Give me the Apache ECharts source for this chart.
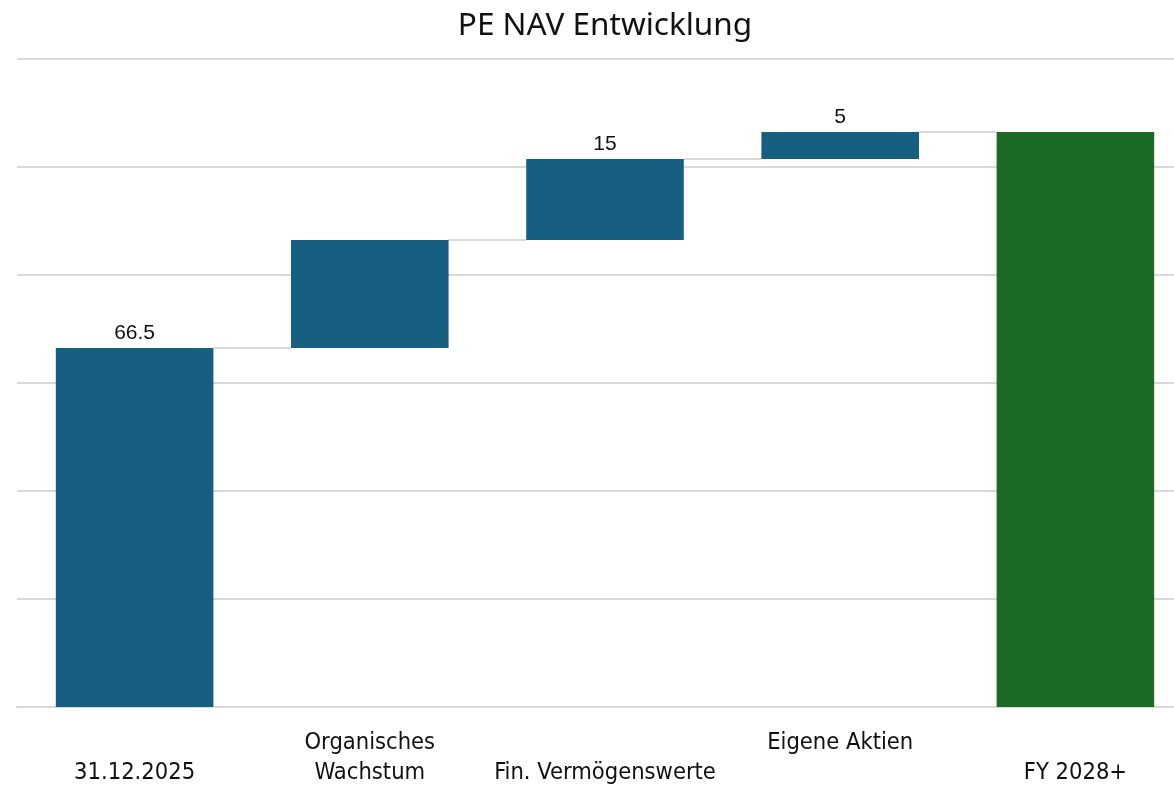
<!DOCTYPE html>
<html>
<head>
<meta charset="utf-8">
<script src="https://cdn.jsdelivr.net/npm/echarts@6/dist/echarts.min.js"></script>
<style>
  html, body { margin: 0; padding: 0; background: #fff; overflow: hidden; }
  #chart { width: 1210px; height: 789px; }
</style>
</head>
<body>
<div id="chart"></div>
<script>
// Kategorien (Excel-Umbruch nachgebildet)
var categories = ['\n31.12.2025', 'Organisches\nWachstum', '\nFin. Vermögenswerte', 'Eigene Aktien\n ', '\nFY 2028+'];
// Wasserfall-Werte; letzter Balken = Summe
var values = [66.5, 20, 15, 5, 106.5];
var isTotal = [true, false, false, false, true];
var labelShown = [true, false, true, true, false];
var barColors = ['#175F80', '#175F80', '#175F80', '#175F80', '#1C6B24'];

// Basis (unsichtbar) aus kumulierten Werten
var baseData = [];
var levels = [];
var running = 0;
for (var i = 0; i < values.length; i++) {
  if (isTotal[i]) {
    baseData.push(0);
    running = values[i];
  } else {
    baseData.push(running);
    running = running + values[i];
  }
  levels.push(running);
}

var barRatio = 0.67;

var myChart = echarts.init(document.getElementById('chart'));
var option = {
  animation: false,
  title: {
    text: 'PE NAV Entwicklung',
    left: 'center',
    top: 5,
    textStyle: {
      fontFamily: 'Noto Sans',
      fontWeight: 'normal',
      fontSize: 31.5,
      color: '#111'
    }
  },
  grid: {
    left: 17,
    right: 17,
    top: 59,
    bottom: 82
  },
  xAxis: {
    type: 'category',
    data: categories,
    axisLine: { lineStyle: { color: '#d9d9d9', width: 2 } },
    axisTick: { show: false },
    axisLabel: {
      interval: 0,
      margin: 21,
      fontFamily: 'Liberation Sans Narrow, DejaVu Sans Condensed, sans-serif',
      fontSize: 23.5,
      lineHeight: 30,
      color: '#111'
    }
  },
  yAxis: {
    type: 'value',
    min: 0,
    max: 120,
    interval: 20,
    axisLabel: { show: false },
    axisLine: { show: false },
    axisTick: { show: false },
    splitLine: { lineStyle: { color: '#d9d9d9', width: 2 } }
  },
  series: [
    {
      name: 'base',
      type: 'bar',
      stack: 'wf',
      barWidth: (barRatio * 100) + '%',
      itemStyle: { color: 'transparent' },
      data: baseData,
      silent: true
    },
    {
      name: 'value',
      type: 'bar',
      stack: 'wf',
      barWidth: (barRatio * 100) + '%',
      data: values.map(function (v, i) {
        return {
          value: v,
          itemStyle: { color: barColors[i] },
          label: { show: labelShown[i] }
        };
      }),
      label: {
        position: 'top',
        distance: 4,
        fontFamily: 'Liberation Sans, Arial, sans-serif',
        fontSize: 21,
        color: '#111'
      }
    },
    {
      name: 'connector',
      type: 'custom',
      silent: true,
      z: 1,
      data: levels.slice(0, levels.length - 1).map(function (lv, i) { return [i, lv]; }),
      renderItem: function (params, api) {
        var idx = api.value(0);
        var lv = api.value(1);
        var p1 = api.coord([idx, lv]);
        var p2 = api.coord([idx + 1, lv]);
        var half = api.size([1, 0])[0] * barRatio / 2;
        return {
          type: 'line',
          shape: { x1: p1[0] + half, y1: p1[1], x2: p2[0] - half, y2: p2[1] },
          style: { stroke: '#d9d9d9', lineWidth: 2 }
        };
      }
    }
  ]
};
myChart.setOption(option);
</script>
</body>
</html>
